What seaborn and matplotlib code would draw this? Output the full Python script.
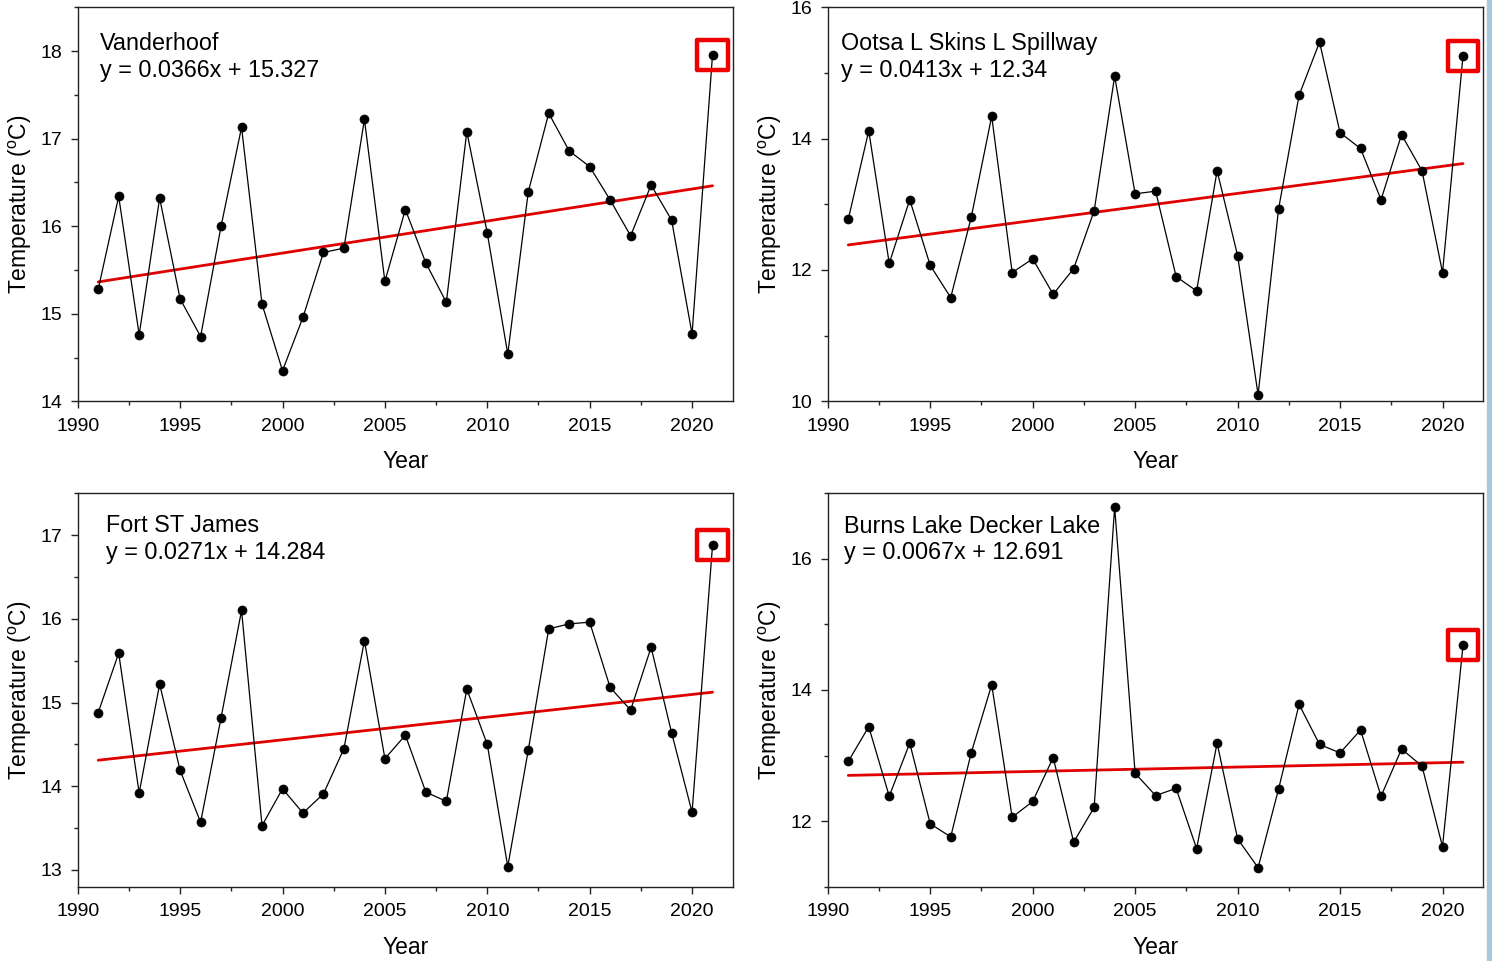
import matplotlib
matplotlib.use('Agg')
import matplotlib.pyplot as plt
from matplotlib.ticker import MultipleLocator
from matplotlib.patches import Rectangle
import seaborn as sns

# annual mean temperatures
years = list(range(1991, 2022))

vanderhoof = [15.28, 16.34, 14.76, 16.32, 15.17, 14.74, 16.00, 17.13, 15.11, 14.35,
              14.96, 15.70, 15.75, 17.22, 15.37, 16.19, 15.58, 15.13, 17.08, 15.92,
              14.54, 16.39, 17.29, 16.86, 16.68, 16.30, 15.89, 16.47, 16.07, 14.77,
              17.96]
ootsa = [12.77, 14.12, 12.10, 13.07, 12.07, 11.58, 12.80, 14.34, 11.96, 12.17,
         11.63, 12.02, 12.90, 14.95, 13.16, 13.20, 11.90, 11.68, 13.51, 12.22,
         10.10, 12.93, 14.66, 15.47, 14.09, 13.85, 13.07, 14.06, 13.51, 11.96,
         15.26]
fort_st_james = [14.88, 15.59, 13.92, 15.22, 14.19, 13.57, 14.82, 16.10, 13.53, 13.97,
                 13.68, 13.91, 14.45, 15.74, 14.33, 14.61, 13.93, 13.82, 15.16, 14.50,
                 13.04, 14.43, 15.88, 15.94, 15.96, 15.18, 14.91, 15.66, 14.64, 13.69,
                 16.88]
burns_lake = [12.91, 13.44, 12.38, 13.19, 11.96, 11.76, 13.04, 14.08, 12.06, 12.30,
              12.97, 11.68, 12.21, 16.79, 12.73, 12.39, 12.50, 11.58, 13.19, 11.73,
              11.29, 12.49, 13.78, 13.17, 13.04, 13.39, 12.38, 13.10, 12.84, 11.61,
              14.68]

stations = ['Vanderhoof', 'Ootsa L Skins L Spillway', 'Fort ST James', 'Burns Lake Decker Lake']
series = [vanderhoof, ootsa, fort_st_james, burns_lake]
slopes = [0.0366, 0.0413, 0.0271, 0.0067]
intercepts = [15.327, 12.34, 14.284, 12.691]

# layout (figure fractions) and per-panel axis settings
positions = [[0.0521, 0.5824, 0.4392, 0.4100],
             [0.5548, 0.5824, 0.4395, 0.4100],
             [0.0521, 0.0773, 0.4392, 0.4094],
             [0.5548, 0.0773, 0.4395, 0.4094]]
ylims = [(14, 18.5), (10, 16), (12.8, 17.5), (11, 17)]
ymajor = [1, 2, 1, 2]
yminor = [0.5, 1, 0.5, 1]
text_pos = [(0.034, 0.937), (0.0198, 0.937), (0.0427, 0.947), (0.0253, 0.946)]

sns.set_style('ticks')
plt.rcParams['font.family'] = ['Liberation Sans', 'DejaVu Sans']
plt.rcParams['mathtext.fontset'] = 'custom'
plt.rcParams['mathtext.rm'] = 'Liberation Sans'
plt.rcParams['text.color'] = 'black'
plt.rcParams['axes.labelcolor'] = 'black'
plt.rcParams['xtick.labelcolor'] = 'black'
plt.rcParams['ytick.labelcolor'] = 'black'

fig = plt.figure(figsize=(14.92, 9.61), dpi=100)

for i in range(4):
    ax = fig.add_axes(positions[i])
    vals = series[i]
    trend = [intercepts[i] + slopes[i] * (y - 1990) for y in years]

    sns.lineplot(x=years, y=trend, ax=ax, color='#e00000', lw=2.0, zorder=2)
    sns.lineplot(x=years, y=vals, ax=ax, color='black', lw=0.9, marker='o',
                 markersize=6.5, markeredgecolor='black', markeredgewidth=0.5, zorder=3)
    # highlight the latest year
    ax.scatter(years[-1], vals[-1], marker='s', s=470, facecolors='none',
               edgecolors='#ee0000', linewidths=3.2, zorder=4)

    ax.set_xlim(1990, 2022)
    ax.set_ylim(*ylims[i])
    ax.xaxis.set_major_locator(MultipleLocator(5))
    ax.xaxis.set_minor_locator(MultipleLocator(2.5))
    ax.yaxis.set_major_locator(MultipleLocator(ymajor[i]))
    ax.yaxis.set_minor_locator(MultipleLocator(yminor[i]))
    ax.tick_params(which='major', length=5, width=1, labelsize=14, color='#222222')
    ax.tick_params(axis='x', which='major', pad=7)
    ax.tick_params(axis='y', which='major', pad=6)
    ax.tick_params(which='minor', length=3.2, width=1, color='#222222')
    for s in ax.spines.values():
        s.set_linewidth(1.0)
        s.set_color('#222222')

    ax.set_xlabel('Year', fontsize=16.5, labelpad=11)
    ax.set_ylabel(r'Temperature ($^{\rm o}$C)', fontsize=16.5, labelpad=5)

    ax.text(text_pos[i][0], text_pos[i][1],
            stations[i] + '\ny = %sx + %s' % (slopes[i], intercepts[i]),
            transform=ax.transAxes, ha='left', va='top', fontsize=16.8, linespacing=1.2)

# light blue strip on the right edge
fig.add_artist(Rectangle((1487 / 1492, 0), 5 / 1492, 1, transform=fig.transFigure,
                         color='#a5c8df', zorder=10))

fig.savefig('out.png', dpi=100)
